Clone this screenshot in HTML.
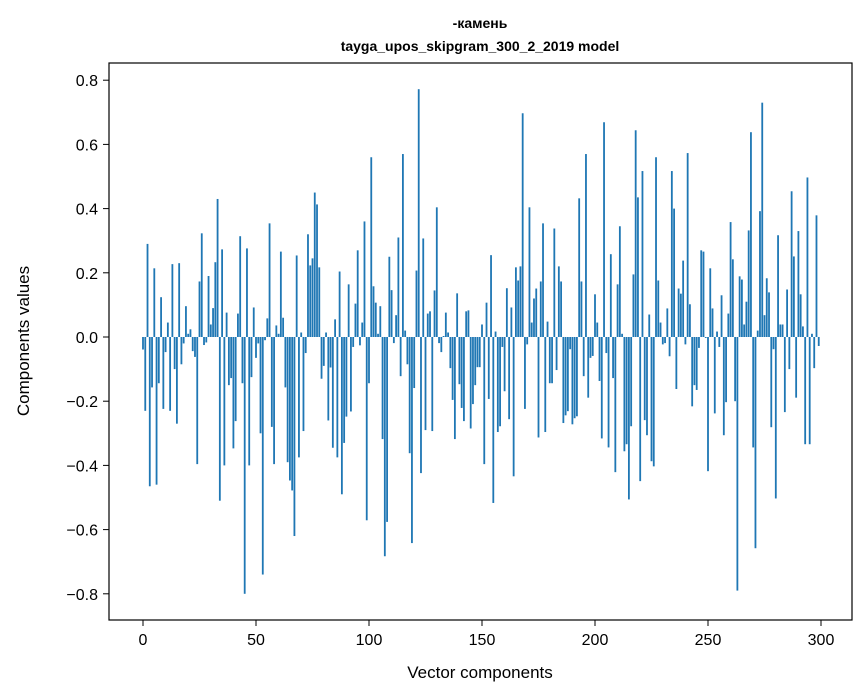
<!DOCTYPE html>
<html><head><meta charset="utf-8"><style>
body{margin:0;background:#fff;}
svg{display:block;font-family:"Liberation Sans","DejaVu Sans",sans-serif;}
</style></head><body>
<svg id="chart" width="867" height="696">
<rect width="867" height="696" fill="#fff"/>
<text x="480" y="28" font-size="14" font-weight="bold" text-anchor="middle">-камень</text>
<text x="480" y="51" font-size="14" font-weight="bold" text-anchor="middle">tayga_upos_skipgram_300_2_2019 model</text>
<g id="bars"></g>
<g id="axes"></g>
<rect x="109" y="63" width="743" height="557" fill="none" stroke="#000" stroke-width="1.2"/>
<text x="480" y="678" font-size="17" text-anchor="middle">Vector components</text>
<text transform="translate(29,341) rotate(-90)" font-size="17" text-anchor="middle">Components values</text>
</svg>
<script>
const values=[-0.039,-0.23,0.29,-0.465,-0.157,0.214,-0.46,-0.144,0.124,-0.224,-0.047,0.045,-0.23,0.227,-0.10,-0.27,0.23,-0.085,-0.02,0.096,0.01,0.024,-0.044,-0.062,-0.396,0.173,0.323,
-0.025,-0.017,0.19,0.039,0.09,0.233,0.43,-0.51,0.273,-0.40,0.076,-0.15,-0.128,-0.347,-0.262,0.073,0.314,-0.144,-0.80,0.276,-0.40,-0.125,0.092,-0.065,-0.02,-0.30,-0.74,
-0.01,0.058,0.354,-0.28,-0.396,0.036,0.01,0.266,0.06,-0.157,-0.39,-0.447,-0.478,-0.62,0.254,-0.375,0.014,-0.293,-0.05,0.32,0.223,0.245,0.45,0.413,0.217,-0.13,-0.09,
0.014,-0.26,-0.095,-0.345,0.055,-0.375,0.204,-0.49,-0.33,-0.248,0.164,-0.232,-0.031,0.104,0.27,-0.026,0.045,0.36,-0.571,-0.144,0.56,0.158,0.107,0.01,0.096,-0.318,-0.683,-0.576,
0.25,0.146,-0.019,0.068,0.31,-0.122,0.57,0.02,-0.085,-0.362,-0.642,-0.159,0.207,0.772,-0.424,0.307,-0.29,0.073,0.08,-0.293,0.145,0.404,-0.019,-0.047,0.003,0.076,0.014,
-0.097,-0.196,-0.318,0.136,-0.147,-0.221,-0.262,0.08,0.083,-0.285,-0.209,-0.15,-0.094,-0.094,0.039,-0.396,0.107,-0.193,0.255,-0.517,0.017,-0.296,-0.278,-0.031,-0.169,0.152,-0.256,0.092,-0.434,
0.217,0.176,0.22,0.697,-0.224,-0.023,0.404,0.045,0.12,0.151,-0.313,0.173,0.354,-0.296,0.048,-0.144,-0.144,0.338,-0.103,0.22,0.173,-0.268,-0.244,-0.231,-0.038,-0.272,-0.253,
-0.247,0.432,0.173,-0.122,0.57,-0.189,-0.065,-0.059,0.133,0.045,-0.137,-0.316,0.669,-0.05,-0.344,0.258,-0.128,-0.421,0.164,0.345,0.01,-0.356,-0.334,-0.506,-0.278,0.195,0.644,
0.435,-0.449,0.517,-0.259,-0.306,0.07,-0.387,-0.403,0.56,0.176,0.045,-0.023,-0.019,0.089,-0.06,0.517,0.40,-0.162,0.151,0.135,0.238,-0.023,0.573,0.102,-0.216,-0.15,-0.165,-0.034,
0.27,0.266,-0.003,-0.418,0.214,0.089,-0.238,0.017,-0.031,0.13,-0.306,-0.203,0.073,0.358,0.242,-0.2,-0.79,0.189,0.179,0.039,0.11,0.332,0.638,-0.344,-0.658,0.02,0.392,
0.73,0.068,0.183,0.139,-0.281,-0.038,-0.503,0.317,0.039,0.039,-0.234,0.148,-0.1,0.454,0.251,-0.189,0.33,0.133,0.033,-0.334,0.497,-0.334,0.01,-0.097,0.379,-0.028];
const xTicks=[0,50,100,150,200,250,300];
const yTicks=[-0.8,-0.6,-0.4,-0.2,0.0,0.2,0.4,0.6,0.8];
const NS="http://www.w3.org/2000/svg";
function xs(v){return 143+v*2.26;}
function ys(v){return 337-v*321;}
const bars=document.getElementById('bars');
values.forEach((v,i)=>{
  const r=document.createElementNS(NS,'rect');
  const y0=ys(Math.max(v,0)),y1=ys(Math.min(v,0));
  r.setAttribute('x',xs(i-0.4));
  r.setAttribute('y',y0);
  r.setAttribute('width',0.8*2.26);
  r.setAttribute('height',Math.max(y1-y0,0.3));
  r.setAttribute('fill','#1f77b4');
  
  
  bars.appendChild(r);
});
const axes=document.getElementById('axes');
xTicks.forEach(t=>{
  const l=document.createElementNS(NS,'line');
  l.setAttribute('x1',xs(t));l.setAttribute('x2',xs(t));
  l.setAttribute('y1',620);l.setAttribute('y2',626);
  l.setAttribute('stroke','#000');
  
  
  axes.appendChild(l);
  const tx=document.createElementNS(NS,'text');
  tx.setAttribute('x',xs(t));tx.setAttribute('y',645);
  tx.setAttribute('font-size','16');tx.setAttribute('text-anchor','middle');
  tx.textContent=t;
  
  
  axes.appendChild(tx);
});
yTicks.forEach(t=>{
  const l=document.createElementNS(NS,'line');
  l.setAttribute('x1',103);l.setAttribute('x2',109);
  l.setAttribute('y1',ys(t));l.setAttribute('y2',ys(t));
  l.setAttribute('stroke','#000');
  
  
  axes.appendChild(l);
  const tx=document.createElementNS(NS,'text');
  tx.setAttribute('x',98);tx.setAttribute('y',ys(t)+6);
  tx.setAttribute('font-size','16');tx.setAttribute('text-anchor','end');
  tx.textContent=(t<0?'\u2212':'')+Math.abs(t).toFixed(1);
  
  
  axes.appendChild(tx);
});
</script>
</body></html>
